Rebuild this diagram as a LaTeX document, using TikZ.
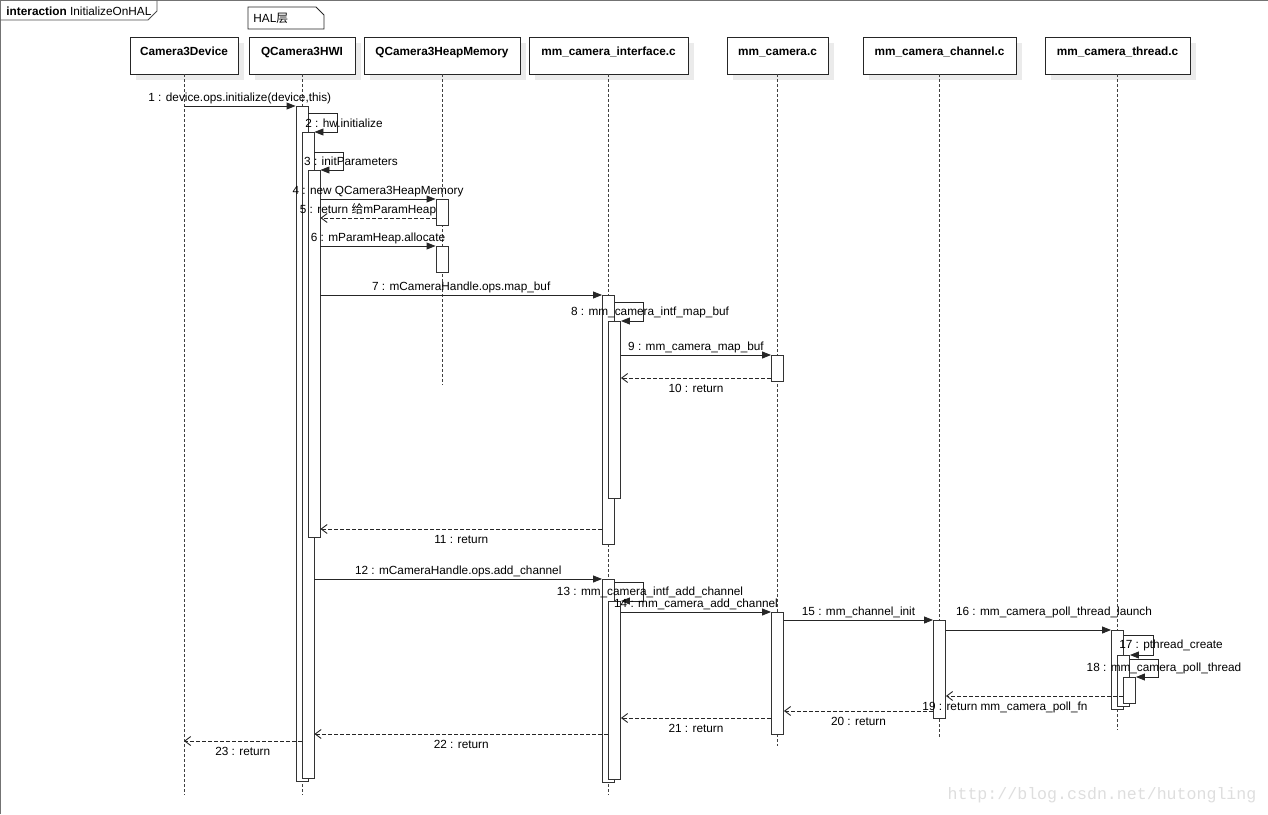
\documentclass[tikz,border=0pt]{standalone}
\usepackage{fontspec}
\setmainfont{Liberation Sans}
\newfontfamily\cjk{Noto Sans CJK SC}
\newfontfamily\wmfont{Liberation Mono}
\usetikzlibrary{arrows.meta,shapes,shadows,positioning}
\newcommand{\seqfont}{\fontsize{11.8}{14}\selectfont}
\tikzstyle{hdr}=[draw=black!85,fill=white,font=\seqfont\bfseries,minimum height=37pt,
                text height=14pt,text depth=15pt,inner ysep=4pt,inner xsep=0pt,outer sep=0pt,
                drop shadow={shadow xshift=6pt,shadow yshift=-6pt,fill=black!8,opacity=1}]
\tikzstyle{act}=[draw=black!80,fill=white,minimum width=12pt,inner sep=0pt,anchor=north]
\tikzstyle{lifeln}=[draw=black!75,dash pattern=on 3pt off 2pt]
\tikzstyle{call}=[draw=black!85,-{Triangle[length=9pt,width=7pt]}]
\tikzstyle{ret}=[draw=black!85,dash pattern=on 4pt off 2pt,-{Straight Barb[length=6pt,width=9pt]}]
\tikzstyle{lbl}=[inner sep=1.5pt,above]
\tikzstyle{lblb}=[inner sep=1.5pt,below,yshift=-4pt]

\begin{document}
\begin{tikzpicture}[x=1pt,y=-1pt,font=\seqfont,line width=0.9pt]
\useasboundingbox (0,0) rectangle (1268,814);
\draw[black!55] (0.5,814) -- (0.5,0.5) -- (1268,0.5);
\draw[black!70] (0.5,20) -- (148,20) -- (157,11) -- (157,0.5);
\node[anchor=west,inner sep=0pt] (frm) at (6,11) {\textbf{interaction} InitializeOnHAL};
\draw[black!85] (248,7) -- (316,7) -- (324,15) -- (324,29) -- (248,29) -- cycle;
\node[anchor=west,inner sep=0pt] (note) at (253,18.5) {HAL{\cjk 层}};
\node[text=black!13,font=\wmfont\fontsize{16.6}{18}\selectfont] (wm) at (1102,795) {http://blog.csdn.net/hutongling};

\node[hdr,minimum width=108pt,anchor=north west] (dev) at (130,37) {Camera3Device};
\node[hdr,minimum width=106pt,right=11pt of dev] (hwi) {QCamera3HWI};
\node[hdr,minimum width=156pt,right=9pt of hwi] (heap) {QCamera3HeapMemory};
\node[hdr,minimum width=159pt,right=9pt of heap] (intf) {mm\_camera\_interface.c};
\node[hdr,minimum width=101pt,right=39pt of intf] (cam) {mm\_camera.c};
\node[hdr,minimum width=153pt,right=35pt of cam] (chan) {mm\_camera\_channel.c};
\node[hdr,minimum width=145pt,right=29pt of chan] (thr) {mm\_camera\_thread.c};

\draw[lifeln] (dev.south) -- (dev.south |- 0,795);
\draw[lifeln] (hwi.south) -- (hwi.south |- 0,795);
\draw[lifeln] (heap.south) -- (heap.south |- 0,385);
\draw[lifeln] (intf.south) -- (intf.south |- 0,795);
\draw[lifeln] (cam.south) -- (cam.south |- 0,746);
\draw[lifeln] (chan.south) -- (chan.south |- 0,738);
\draw[lifeln] (thr.south) -- (thr.south |- 0,730);

\node[act,minimum height=675pt] (h1) at (hwi.south |- 0,106) {};
\node[act,minimum height=646pt,xshift=6pt] (h2) at (hwi.south |- 0,132) {};
\node[act,minimum height=367pt,xshift=12pt] (h3) at (hwi.south |- 0,170) {};
\node[act,minimum height=26pt] (hp1) at (heap.south |- 0,199) {};
\node[act,minimum height=26pt] (hp2) at (heap.south |- 0,246) {};
\node[act,minimum height=249pt] (i1) at (intf.south |- 0,295) {};
\node[act,minimum height=177pt,xshift=6pt] (i2) at (intf.south |- 0,321) {};
\node[act,minimum height=203pt] (i3) at (intf.south |- 0,579) {};
\node[act,minimum height=178pt,xshift=6pt] (i4) at (intf.south |- 0,601) {};
\node[act,minimum height=26pt] (c1) at (cam.south |- 0,355) {};
\node[act,minimum height=122pt] (c2) at (cam.south |- 0,612) {};
\node[act,minimum height=98pt] (n1) at (chan.south |- 0,620) {};
\node[act,minimum height=79pt] (t1) at (thr.south |- 0,630) {};
\node[act,minimum height=51pt,xshift=6pt] (t2) at (thr.south |- 0,655) {};
\node[act,minimum height=26pt,xshift=12pt] (t3) at (thr.south |- 0,677) {};

\draw[call] (dev.south |- h1.north) -- node[lbl] {1 : device.ops.initialize(device,this)} (h1.north west);
\draw[call] (h1.east |- 0,113) -- ++(29,0) |- (h2.north east);
\node (l2) at (344,123) {2 : hw.initialize};
\draw[call] (h2.east |- 0,152) -- ++(29,0) |- (h3.north east);
\node (l3) at (351,161) {3 : initParameters};
\draw[call] (h3.east |- hp1.north) -- node[lbl] {4 : new QCamera3HeapMemory} (hp1.north west);
\draw[ret] (hp1.west |- 0,218) -- node[lbl,xshift=-10pt] {5 : return {\cjk 给}mParamHeap} (h3.east |- 0,218);
\draw[call] (h3.east |- hp2.north) -- node[lbl] {6 : mParamHeap.allocate} (hp2.north west);
\draw[call] (h3.east |- i1.north) -- node[lbl] {7 : mCameraHandle.ops.map\_buf} (i1.north west);
\draw[call] (i1.east |- 0,302) -- ++(28,0) |- (i2.north east);
\node (l8) at (650,312) {8 : mm\_camera\_intf\_map\_buf};
\draw[call] (i2.east |- c1.north) -- node[lbl] {9 : mm\_camera\_map\_buf} (c1.north west);
\draw[ret] (c1.west |- 0,378) -- node[lblb] {10 : return} (i2.east |- 0,378);
\draw[ret] (i1.west |- 0,529) -- node[lblb] {11 : return} (h3.east |- 0,529);
\draw[call] (h2.east |- i3.north) -- node[lbl] {12 : mCameraHandle.ops.add\_channel} (i3.north west);
\draw[call] (i3.east |- 0,582) -- ++(28,0) |- (i4.north east);
\node (l13) at (650,592) {13 : mm\_camera\_intf\_add\_channel};
\draw[call] (i4.east |- c2.north) -- node[lbl] {14 : mm\_camera\_add\_channel} (c2.north west);
\draw[call] (c2.east |- n1.north) -- node[lbl] {15 : mm\_channel\_init} (n1.north west);
\draw[call] (n1.east |- t1.north) -- (t1.north west);
\node (l16) at (1054,612) {16 : mm\_camera\_poll\_thread\_launch};
\draw[call] (t1.east |- 0,635) -- ++(29,0) |- (t2.north east);
\node (l17) at (1171,645) {17 : pthread\_create};
\draw[call] (t2.east |- 0,659) -- ++(28,0) |- (t3.north east);
\node (l18) at (1164,668) {18 : mm\_camera\_poll\_thread};
\draw[ret] (t3.west |- 0,696) -- (n1.east |- 0,696);
\node (l19) at (1005,707) {19 : return mm\_camera\_poll\_fn};
\draw[ret] (n1.west |- 0,711) -- node[lblb] {20 : return} (c2.east |- 0,711);
\draw[ret] (c2.west |- 0,718) -- node[lblb] {21 : return} (i4.east |- 0,718);
\draw[ret] (i4.west |- 0,734) -- node[lblb] {22 : return} (h2.east |- 0,734);
\draw[ret] (h2.west |- 0,741) -- node[lblb] {23 : return} (dev.south |- 0,741);
\end{tikzpicture}
\end{document}
